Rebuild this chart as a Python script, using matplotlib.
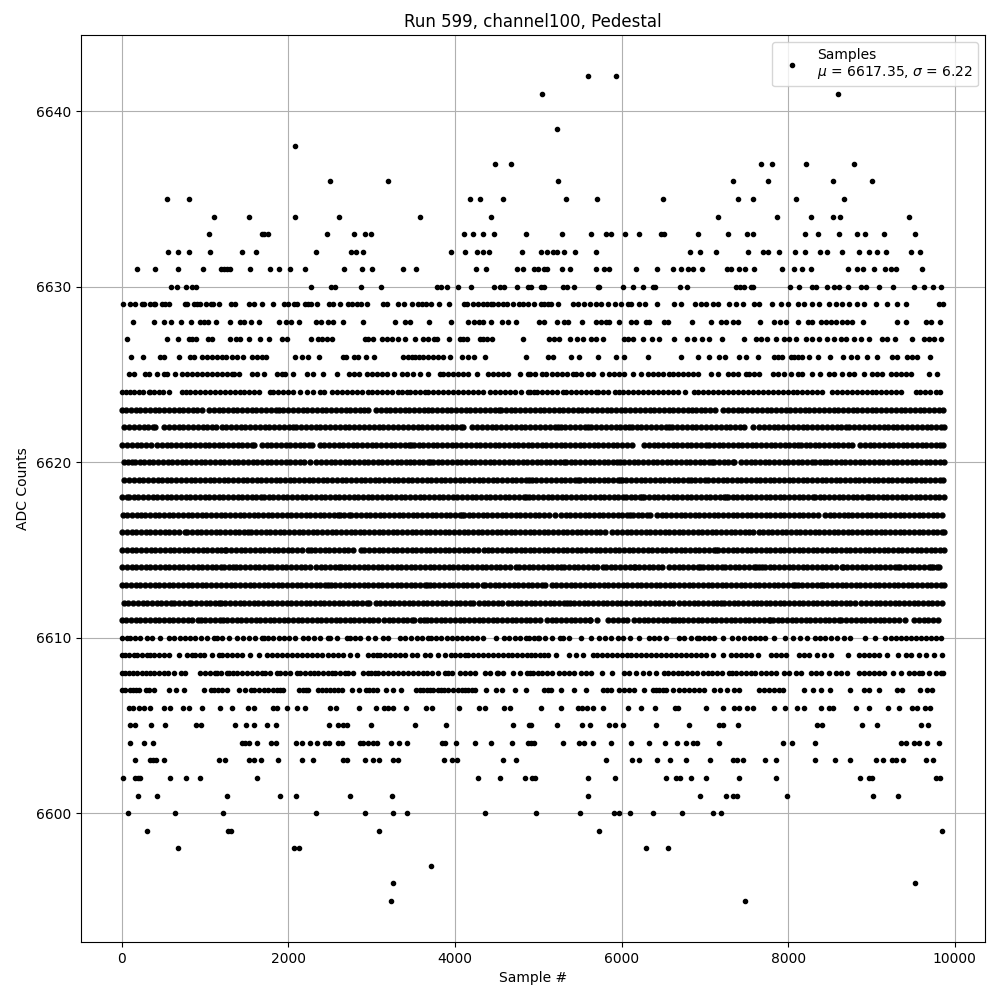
import matplotlib
matplotlib.use("Agg")
import matplotlib.pyplot as plt

lev_6642 = [5592, 5928]
lev_6641 = [5040, 8604]
lev_6639 = [5220]
lev_6638 = [2079]
lev_6637 = [4485, 4676, 7672, 7800, 8220, 8796]
lev_6636 = [2498, 3192, 5240, 7332, 7752, 8544, 9012]
lev_6635 = [547, 810, 4174, 4305, 4580, 5328, 5700, 6492, 7392, 7572, 8088, 8676]
lev_6634 = [1109, 1528, 2079, 2605, 3575, 4429, 7152, 7860, 8280, 8544, 8628, 9456]
lev_6633 = [1049, 1680, 1700, 1756, 2462, 2785, 2917, 2989, 4102, 4221, 4341, 4473, 4856, 5280, 5628, 5808, 5868, 6040, 6204, 6472, 6512, 6912, 7276, 7500, 7580, 8208, 8364, 8616, 8832, 8928, 9152, 9528]
lev_6632 = [559, 678, 810, 1061, 1444, 1612, 2330, 2749, 2809, 2893, 3946, 4118, 4269, 4341, 4405, 4808, 5032, 5100, 5172, 5220, 5304, 5436, 5688, 6816, 6936, 7128, 7512, 7692, 7752, 7884, 8076, 8208, 8388, 8472, 8652, 8856, 8976, 9072, 9180, 9472, 9580]
lev_6631 = [176, 403, 678, 978, 1193, 1225, 1257, 1301, 1540, 1780, 1887, 2019, 2198, 2665, 2881, 3000, 3372, 3527, 4257, 4377, 4748, 4820, 4944, 4992, 5072, 5100, 5280, 5376, 5688, 5792, 5852, 6168, 6420, 6612, 6708, 6792, 6860, 6960, 7260, 7308, 7404, 7484, 7584, 7920, 8072, 8172, 8272, 8724, 8832, 8904, 9036, 9168, 9232, 9300, 9612]
lev_6630 = [595, 666, 774, 838, 886, 2270, 2510, 2558, 2869, 3108, 3779, 3826, 3902, 4030, 4197, 4473, 4541, 4589, 4748, 4880, 4912, 5032, 5072, 5292, 5344, 5424, 5712, 5732, 6012, 6140, 6252, 6372, 6404, 6696, 6780, 7372, 7420, 7472, 7552, 7580, 8016, 8132, 8292, 8332, 8472, 8552, 8612, 8724, 8872, 8940, 9092, 9264, 9512, 9628, 9744, 9840]
lev_6629 = [16, 92, 152, 240, 260, 332, 380, 400, 480, 520, 560, 760, 780, 860, 900, 932, 1012, 1072, 1092, 1168, 1312, 1352, 1520, 1580, 1676, 1820, 1952, 2000, 2072, 2100, 2200, 2240, 2268, 2340, 2492, 2540, 2624, 2712, 2760, 2820, 2872, 2948, 3140, 3188, 3320, 3392, 3488, 3560, 3608, 3652, 3716, 3812, 3932, 4108, 4140, 4212, 4272, 4340, 4380, 4428, 4460, 4520, 4580, 4628, 4700, 4772, 4820, 4880, 4944, 5032, 5072, 5112, 5152, 5232, 5412, 5472, 5552, 5620, 5692, 5752, 5832, 5924, 5992, 6072, 6112, 6204, 6284, 6424, 6624, 6712, 6880, 6952, 7012, 7092, 7152, 7292, 7372, 7452, 7592, 7652, 7800, 7912, 7992, 8112, 8192, 8292, 8372, 8492, 8572, 8652, 8732, 8832, 8912, 9052, 9192, 9312, 9412, 9812, 9860]
lev_6628 = [128, 380, 500, 588, 704, 824, 940, 980, 1028, 1124, 1292, 1420, 1460, 1544, 1640, 1892, 1976, 2036, 2132, 2336, 2396, 2480, 2540, 2652, 2900, 3284, 3404, 3460, 3692, 3956, 4156, 4228, 4292, 4340, 4436, 4560, 4640, 4732, 5012, 5072, 5220, 5304, 5360, 5520, 5692, 5752, 5812, 5852, 5964, 6112, 6172, 6292, 6332, 6504, 6552, 6840, 7068, 7192, 7252, 7332, 7392, 7660, 7824, 7896, 7968, 8112, 8244, 8292, 8392, 8452, 8512, 8572, 8652, 8712, 8772, 8904, 9312, 9420, 9652, 9712, 9828]
lev_6627 = [60, 536, 668, 800, 840, 892, 1028, 1076, 1292, 1372, 1412, 1520, 1652, 1772, 1928, 1988, 2276, 2360, 2400, 2460, 2528, 2920, 2960, 3020, 3120, 3180, 3248, 3320, 3404, 3524, 3620, 3680, 3752, 3788, 3924, 4060, 4100, 4148, 4300, 4340, 4380, 4448, 4816, 5132, 5192, 5252, 5380, 5460, 5532, 5632, 5692, 5780, 6024, 6072, 6140, 6252, 6360, 6452, 6624, 6780, 6872, 6960, 7052, 7200, 7464, 7612, 7672, 7740, 7848, 7952, 8012, 8092, 8212, 8284, 8372, 8472, 8552, 8632, 8692, 8792, 8872, 8972, 9132, 9192, 9284, 9492, 9632, 9692, 9752, 9832]
lev_6626 = [104, 248, 460, 500, 680, 820, 868, 960, 1020, 1080, 1140, 1200, 1252, 1320, 1380, 1452, 1560, 1620, 1680, 1732, 2084, 2168, 2240, 2372, 2660, 2692, 2788, 2840, 2932, 3032, 3380, 3440, 3480, 3520, 3572, 3620, 3680, 3740, 3800, 3860, 3940, 4080, 4160, 4228, 4364, 4856, 5112, 5180, 5388, 5484, 5712, 5928, 6024, 6312, 6712, 6912, 7044, 7164, 7244, 7404, 7488, 7632, 7832, 7872, 7920, 8032, 8072, 8112, 8164, 8256, 8364, 8508, 8664, 8752, 8832, 8952, 9064, 9252, 9312, 9432, 9492, 9552, 9700]
lev_6625 = [80, 140, 280, 320, 420, 500, 540, 640, 720, 780, 840, 900, 960, 1020, 1080, 1140, 1200, 1260, 1320, 1340, 1400, 1560, 1620, 1700, 1860, 1920, 1960, 2052, 2220, 2300, 2420, 2588, 2732, 2790, 2850, 2940, 3000, 3060, 3120, 3180, 3268, 3360, 3420, 3500, 3580, 3680, 3820, 3860, 3920, 3980, 4040, 4100, 4160, 4260, 4400, 4460, 4520, 4580, 4640, 4780, 4880, 4900, 4960, 5050, 5092, 5160, 5220, 5280, 5340, 5412, 5452, 5512, 5592, 5652, 5764, 5852, 5912, 5972, 6032, 6132, 6232, 6312, 6372, 6432, 6492, 6572, 6612, 6672, 6732, 6792, 6852, 6912, 7072, 7152, 7272, 7332, 7392, 7492, 7532, 7592, 7652, 7812, 7872, 7952, 8032, 8112, 8172, 8292, 8384, 8492, 8552, 8652, 8732, 8792, 8912, 9012, 9072, 9132, 9232, 9292, 9352, 9412, 9472, 9692, 9792]
lev_6624 = [5, 45, 95, 140, 200, 250, 320, 340, 390, 440, 490, 570, 720, 770, 820, 880, 940, 1000, 1060, 1120, 1180, 1240, 1300, 1360, 1420, 1460, 1520, 1590, 1650, 1780, 1820, 1880, 1940, 2000, 2060, 2140, 2220, 2300, 2380, 2428, 2520, 2580, 2640, 2700, 2760, 2820, 2880, 2950, 3000, 3060, 3120, 3180, 3240, 3320, 3360, 3420, 3460, 3520, 3580, 3640, 3680, 3740, 3800, 3860, 3920, 3980, 4040, 4100, 4160, 4220, 4280, 4340, 4420, 4480, 4540, 4600, 4660, 4720, 4788, 4880, 4900, 4952, 4980, 5040, 5100, 5160, 5220, 5292, 5332, 5392, 5452, 5512, 5572, 5632, 5692, 5712, 5772, 5840, 5924, 5964, 6020, 6080, 6140, 6200, 6260, 6320, 6380, 6440, 6500, 6560, 6620, 6680, 6760, 6872, 6912, 6972, 7032, 7092, 7152, 7212, 7272, 7332, 7392, 7452, 7512, 7572, 7632, 7692, 7752, 7812, 7872, 7932, 7992, 8052, 8104, 8164, 8224, 8284, 8344, 8404, 8532, 8592, 8652, 8712, 8772, 8832, 8892, 8952, 9012, 9052, 9112, 9172, 9232, 9292, 9352, 9532, 9580, 9640, 9700, 9780, 9820]
lev_6623 = [2, 50, 105, 165, 215, 280, 340, 395, 450, 510, 565, 620, 680, 735, 790, 850, 905, 960, 1045, 1100, 1160, 1215, 1270, 1330, 1385, 1445, 1500, 1560, 1615, 1670, 1730, 1790, 1845, 1885, 1940, 2000, 2055, 2110, 2170, 2225, 2285, 2340, 2400, 2455, 2510, 2570, 2625, 2685, 2740, 2800, 2855, 2910, 2950, 3050, 3105, 3165, 3220, 3280, 3335, 3395, 3450, 3510, 3565, 3625, 3670, 3725, 3785, 3840, 3900, 3955, 4015, 4070, 4130, 4185, 4245, 4300, 4360, 4415, 4475, 4530, 4555, 4610, 4670, 4725, 4785, 4840, 4900, 4955, 5015, 5070, 5130, 5185, 5245, 5300, 5360, 5415, 5475, 5530, 5590, 5645, 5705, 5760, 5820, 5875, 5930, 5990, 6045, 6105, 6160, 6220, 6275, 6335, 6390, 6450, 6505, 6565, 6620, 6680, 6735, 6795, 6850, 6890, 6950, 7005, 7065, 7120, 7220, 7280, 7335, 7395, 7450, 7510, 7565, 7625, 7680, 7740, 7795, 7855, 7910, 7970, 8025, 8085, 8140, 8200, 8255, 8315, 8370, 8430, 8485, 8545, 8600, 8660, 8715, 8775, 8830, 8890, 8945, 9005, 9060, 9120, 9175, 9235, 9290, 9350, 9405, 9465, 9520, 9580, 9635, 9695, 9750, 9810, 9860]
lev_6622 = [30, 90, 145, 200, 262, 315, 372, 400, 505, 560, 622, 680, 735, 798, 855, 910, 972, 1018, 1080, 1135, 1196, 1250, 1312, 1365, 1425, 1480, 1542, 1595, 1655, 1712, 1770, 1830, 1888, 1945, 2005, 2050, 2090, 2150, 2208, 2265, 2325, 2382, 2440, 2500, 2558, 2615, 2675, 2732, 2790, 2850, 2908, 2965, 3025, 3082, 3140, 3200, 3258, 3315, 3375, 3432, 3490, 3550, 3608, 3665, 3725, 3782, 3840, 3900, 3958, 4015, 4075, 4100, 4205, 4262, 4320, 4380, 4438, 4495, 4555, 4612, 4670, 4730, 4788, 4845, 4905, 4962, 5020, 5080, 5138, 5195, 5240, 5268, 5325, 5385, 5442, 5500, 5560, 5595, 5635, 5695, 5752, 5810, 5870, 5928, 5985, 6045, 6085, 6120, 6180, 6238, 6295, 6355, 6412, 6470, 6530, 6575, 6605, 6665, 6722, 6780, 6840, 6898, 6955, 7015, 7072, 7130, 7190, 7248, 7305, 7365, 7422, 7475, 7575, 7650, 7708, 7765, 7825, 7882, 7940, 8000, 8058, 8115, 8175, 8232, 8290, 8350, 8408, 8465, 8525, 8582, 8640, 8700, 8735, 8795, 8852, 8910, 8970, 9028, 9085, 9145, 9202, 9260, 9310, 9370, 9430, 9488, 9545, 9605, 9662, 9720, 9780, 9838, 9870]
lev_6621 = [5, 62, 118, 176, 232, 288, 345, 425, 482, 538, 595, 652, 708, 765, 822, 878, 935, 992, 1048, 1105, 1162, 1218, 1275, 1332, 1388, 1445, 1502, 1558, 1585, 1680, 1738, 1795, 1852, 1908, 1965, 2022, 2078, 2135, 2192, 2248, 2285, 2375, 2432, 2488, 2545, 2602, 2658, 2715, 2772, 2828, 2885, 2942, 2998, 3055, 3112, 3168, 3225, 3282, 3338, 3395, 3452, 3475, 3505, 3562, 3618, 3675, 3732, 3788, 3845, 3902, 3958, 4015, 4072, 4128, 4190, 4248, 4305, 4362, 4418, 4475, 4532, 4588, 4645, 4702, 4758, 4815, 4872, 4928, 4985, 5042, 5098, 5155, 5212, 5268, 5325, 5382, 5438, 5495, 5552, 5608, 5665, 5722, 5778, 5835, 5892, 5948, 6005, 6062, 6120, 6270, 6328, 6385, 6442, 6498, 6555, 6612, 6668, 6725, 6782, 6838, 6895, 6952, 7008, 7050, 7108, 7165, 7222, 7278, 7335, 7392, 7448, 7505, 7562, 7618, 7675, 7732, 7788, 7845, 7902, 7958, 8015, 8072, 8120, 8160, 8215, 8260, 8318, 8375, 8432, 8488, 8545, 8602, 8658, 8715, 8772, 8860, 8920, 8978, 9035, 9092, 9148, 9205, 9262, 9318, 9375, 9432, 9488, 9545, 9602, 9658, 9715, 9772, 9828, 9865]
lev_6620 = [20, 75, 125, 155, 212, 265, 322, 378, 435, 492, 548, 605, 662, 718, 775, 832, 888, 945, 1002, 1058, 1115, 1172, 1228, 1285, 1342, 1398, 1455, 1512, 1568, 1625, 1682, 1738, 1795, 1852, 1908, 1965, 2022, 2078, 2135, 2192, 2255, 2335, 2392, 2448, 2505, 2562, 2618, 2675, 2732, 2788, 2845, 2902, 2958, 3015, 3072, 3128, 3185, 3242, 3298, 3355, 3412, 3455, 3505, 3562, 3618, 3675, 3705, 3735, 3792, 3848, 3905, 3962, 4018, 4075, 4132, 4188, 4245, 4302, 4358, 4415, 4472, 4528, 4585, 4642, 4698, 4755, 4812, 4868, 4925, 4990, 5030, 5088, 5145, 5202, 5258, 5305, 5330, 5388, 5445, 5502, 5558, 5615, 5672, 5728, 5785, 5842, 5898, 5945, 5975, 6032, 6088, 6145, 6202, 6258, 6315, 6372, 6428, 6485, 6542, 6598, 6655, 6712, 6768, 6825, 6882, 6938, 6995, 7052, 7080, 7110, 7168, 7225, 7282, 7338, 7350, 7435, 7492, 7548, 7605, 7662, 7718, 7775, 7832, 7888, 7945, 8002, 8058, 8115, 8172, 8228, 8285, 8320, 8378, 8435, 8462, 8518, 8575, 8632, 8688, 8745, 8802, 8858, 8915, 8972, 9028, 9085, 9142, 9198, 9255, 9312, 9368, 9425, 9482, 9538, 9595, 9652, 9708, 9765, 9822, 9870]
lev_6619 = [30, 88, 145, 202, 258, 315, 372, 428, 485, 542, 595, 655, 712, 768, 825, 882, 938, 995, 1052, 1108, 1165, 1222, 1278, 1335, 1392, 1448, 1505, 1562, 1618, 1675, 1732, 1788, 1845, 1902, 1958, 2015, 2072, 2128, 2185, 2242, 2298, 2355, 2412, 2468, 2525, 2582, 2638, 2695, 2752, 2808, 2865, 2922, 2978, 3035, 3092, 3148, 3205, 3262, 3318, 3375, 3432, 3488, 3545, 3602, 3658, 3715, 3772, 3828, 3885, 3942, 3998, 4055, 4112, 4168, 4225, 4282, 4338, 4395, 4452, 4508, 4565, 4622, 4678, 4735, 4792, 4848, 4885, 4920, 4978, 5035, 5098, 5155, 5212, 5268, 5325, 5382, 5438, 5478, 5500, 5558, 5615, 5672, 5728, 5785, 5842, 5898, 5955, 5975, 6000, 6058, 6115, 6172, 6228, 6285, 6342, 6398, 6455, 6512, 6568, 6625, 6682, 6738, 6795, 6828, 6885, 6942, 6998, 7040, 7098, 7155, 7212, 7268, 7325, 7382, 7438, 7495, 7552, 7608, 7665, 7722, 7778, 7835, 7892, 7948, 8005, 8062, 8118, 8175, 8232, 8288, 8345, 8402, 8458, 8515, 8572, 8628, 8685, 8742, 8798, 8855, 8912, 8968, 9025, 9082, 9138, 9195, 9252, 9308, 9365, 9422, 9478, 9535, 9592, 9648, 9705, 9762, 9818, 9865]
lev_6618 = [5, 55, 85, 142, 198, 255, 312, 368, 425, 482, 538, 595, 652, 708, 765, 822, 878, 935, 992, 1048, 1105, 1162, 1218, 1275, 1332, 1388, 1445, 1502, 1558, 1615, 1672, 1705, 1762, 1818, 1875, 1932, 1988, 2045, 2102, 2158, 2215, 2272, 2328, 2385, 2442, 2498, 2555, 2612, 2668, 2725, 2782, 2838, 2895, 2952, 3008, 3065, 3122, 3178, 3235, 3292, 3355, 3405, 3462, 3518, 3575, 3632, 3688, 3745, 3802, 3858, 3915, 3972, 4028, 4085, 4142, 4198, 4255, 4312, 4368, 4425, 4482, 4538, 4595, 4652, 4708, 4765, 4822, 4855, 4885, 4942, 4998, 5055, 5112, 5168, 5225, 5282, 5338, 5395, 5452, 5508, 5565, 5622, 5678, 5735, 5792, 5848, 5905, 5962, 6018, 6050, 6108, 6165, 6222, 6245, 6270, 6328, 6385, 6442, 6498, 6555, 6612, 6668, 6725, 6782, 6838, 6895, 6952, 7008, 7065, 7122, 7178, 7235, 7250, 7275, 7332, 7388, 7445, 7502, 7558, 7615, 7672, 7728, 7785, 7842, 7898, 7955, 8012, 8068, 8125, 8182, 8238, 8295, 8320, 8378, 8435, 8492, 8548, 8605, 8662, 8718, 8775, 8832, 8888, 8945, 8965, 9022, 9078, 9135, 9192, 9248, 9305, 9362, 9418, 9475, 9532, 9588, 9645, 9702, 9758, 9815, 9868]
lev_6617 = [8, 65, 122, 178, 235, 278, 335, 392, 448, 505, 562, 618, 675, 732, 788, 845, 902, 958, 1015, 1072, 1128, 1185, 1242, 1298, 1355, 1412, 1468, 1525, 1582, 1638, 1695, 1752, 1808, 1865, 1922, 1978, 2035, 2092, 2148, 2205, 2262, 2318, 2375, 2432, 2488, 2545, 2595, 2615, 2672, 2728, 2755, 2812, 2868, 2925, 2982, 3038, 3095, 3152, 3208, 3265, 3322, 3378, 3435, 3492, 3548, 3605, 3662, 3718, 3775, 3832, 3888, 3945, 4002, 4058, 4080, 4105, 4162, 4218, 4275, 4332, 4388, 4445, 4502, 4558, 4615, 4672, 4728, 4785, 4842, 4898, 4955, 5012, 5068, 5125, 5205, 5270, 5328, 5385, 5442, 5498, 5555, 5612, 5668, 5725, 5782, 5838, 5895, 5952, 6008, 6065, 6095, 6135, 6192, 6248, 6305, 6335, 6425, 6482, 6538, 6595, 6652, 6708, 6765, 6822, 6878, 6935, 6992, 7048, 7105, 7162, 7218, 7275, 7332, 7388, 7445, 7502, 7558, 7615, 7672, 7728, 7785, 7842, 7898, 7955, 8012, 8068, 8125, 8182, 8238, 8295, 8360, 8440, 8498, 8555, 8612, 8670, 8715, 8772, 8828, 8885, 8942, 8998, 9055, 9112, 9168, 9225, 9282, 9338, 9395, 9452, 9508, 9565, 9622, 9678, 9735, 9792, 9848]
lev_6616 = [2, 58, 115, 172, 228, 285, 342, 398, 455, 512, 568, 625, 682, 755, 785, 842, 898, 955, 1012, 1068, 1125, 1182, 1238, 1295, 1352, 1408, 1465, 1515, 1555, 1612, 1668, 1725, 1782, 1838, 1895, 1952, 2008, 2065, 2122, 2178, 2235, 2292, 2348, 2405, 2462, 2518, 2575, 2632, 2688, 2745, 2795, 2855, 2912, 2968, 3025, 3082, 3138, 3195, 3252, 3308, 3365, 3422, 3478, 3535, 3592, 3648, 3705, 3762, 3818, 3875, 3932, 3988, 4045, 4102, 4158, 4215, 4272, 4328, 4385, 4442, 4498, 4555, 4612, 4668, 4725, 4782, 4838, 4895, 4952, 5008, 5065, 5122, 5178, 5235, 5292, 5348, 5405, 5462, 5518, 5575, 5632, 5688, 5745, 5800, 5890, 5948, 6005, 6062, 6118, 6175, 6232, 6288, 6345, 6402, 6458, 6515, 6572, 6628, 6685, 6742, 6798, 6855, 6912, 6968, 7025, 7082, 7138, 7195, 7252, 7308, 7365, 7422, 7478, 7530, 7575, 7650, 7695, 7752, 7808, 7865, 7922, 7978, 8035, 8092, 8148, 8205, 8262, 8318, 8375, 8432, 8488, 8545, 8602, 8658, 8715, 8772, 8828, 8885, 8942, 8998, 9055, 9112, 9168, 9225, 9282, 9338, 9395, 9452, 9508, 9565, 9622, 9678, 9735, 9792, 9848, 9870]
lev_6615 = [5, 62, 118, 175, 232, 288, 345, 402, 458, 515, 572, 628, 685, 742, 798, 855, 912, 968, 1025, 1082, 1138, 1195, 1235, 1255, 1312, 1368, 1425, 1482, 1538, 1595, 1652, 1708, 1765, 1822, 1878, 1935, 1992, 2048, 2105, 2162, 2235, 2265, 2322, 2378, 2435, 2492, 2548, 2605, 2662, 2718, 2775, 2875, 2910, 2968, 3025, 3082, 3138, 3195, 3252, 3308, 3365, 3422, 3478, 3535, 3592, 3648, 3705, 3762, 3818, 3875, 3932, 3988, 4045, 4102, 4158, 4215, 4272, 4350, 4390, 4448, 4505, 4562, 4618, 4675, 4732, 4788, 4840, 4895, 4952, 5008, 5065, 5122, 5178, 5235, 5292, 5348, 5405, 5462, 5518, 5575, 5632, 5688, 5745, 5802, 5858, 5915, 5972, 6028, 6085, 6142, 6198, 6255, 6312, 6368, 6425, 6482, 6538, 6595, 6652, 6708, 6765, 6822, 6878, 6935, 6992, 7048, 7105, 7130, 7160, 7218, 7275, 7332, 7388, 7445, 7502, 7558, 7615, 7672, 7728, 7785, 7842, 7898, 7955, 8012, 8068, 8125, 8182, 8238, 8295, 8352, 8408, 8465, 8522, 8578, 8635, 8692, 8748, 8805, 8862, 8918, 8975, 9032, 9088, 9145, 9202, 9258, 9315, 9372, 9428, 9485, 9542, 9598, 9655, 9712, 9768, 9825, 9868]
lev_6614 = [2, 58, 115, 172, 228, 285, 342, 398, 455, 512, 568, 625, 682, 738, 795, 852, 908, 965, 1022, 1078, 1135, 1192, 1225, 1282, 1335, 1365, 1422, 1478, 1535, 1592, 1648, 1705, 1765, 1805, 1862, 1918, 1975, 2032, 2088, 2145, 2202, 2258, 2335, 2385, 2442, 2498, 2555, 2612, 2635, 2675, 2732, 2788, 2845, 2902, 2958, 3015, 3072, 3128, 3185, 3242, 3298, 3355, 3412, 3468, 3525, 3582, 3638, 3695, 3752, 3808, 3865, 3922, 3978, 4035, 4092, 4148, 4205, 4262, 4318, 4375, 4432, 4488, 4545, 4602, 4658, 4735, 4770, 4828, 4885, 4942, 4998, 5055, 5112, 5168, 5225, 5270, 5310, 5368, 5425, 5482, 5538, 5595, 5652, 5708, 5775, 5810, 5868, 5925, 5982, 6038, 6095, 6152, 6165, 6210, 6268, 6325, 6382, 6438, 6485, 6570, 6628, 6685, 6742, 6798, 6855, 6912, 6945, 6975, 7032, 7088, 7145, 7210, 7245, 7302, 7358, 7415, 7472, 7528, 7585, 7610, 7645, 7685, 7720, 7778, 7835, 7892, 7948, 8005, 8062, 8118, 8175, 8232, 8288, 8345, 8402, 8458, 8515, 8572, 8645, 8655, 8712, 8768, 8825, 8882, 8938, 8995, 9052, 9108, 9165, 9222, 9278, 9320, 9345, 9402, 9458, 9515, 9572, 9628, 9685, 9715, 9740, 9785, 9812]
lev_6613 = [2, 52, 108, 165, 222, 278, 335, 392, 448, 505, 562, 618, 675, 732, 788, 845, 902, 958, 1015, 1072, 1128, 1185, 1255, 1305, 1362, 1418, 1475, 1532, 1588, 1645, 1702, 1758, 1815, 1872, 1928, 1985, 2042, 2098, 2155, 2212, 2268, 2325, 2382, 2438, 2475, 2505, 2562, 2618, 2675, 2732, 2788, 2845, 2902, 2958, 3015, 3072, 3128, 3185, 3242, 3298, 3355, 3412, 3468, 3525, 3582, 3638, 3665, 3695, 3752, 3808, 3865, 3922, 3978, 4035, 4092, 4148, 4205, 4262, 4335, 4360, 4418, 4475, 4532, 4588, 4645, 4702, 4758, 4815, 4872, 4928, 4985, 5042, 5085, 5160, 5218, 5275, 5332, 5388, 5445, 5502, 5558, 5615, 5672, 5728, 5785, 5842, 5898, 5955, 6012, 6068, 6125, 6182, 6238, 6295, 6352, 6408, 6465, 6522, 6578, 6635, 6692, 6748, 6805, 6862, 6918, 6975, 7032, 7088, 7145, 7202, 7258, 7315, 7372, 7428, 7485, 7542, 7598, 7655, 7712, 7768, 7825, 7882, 7938, 7995, 8052, 8080, 8115, 8172, 8228, 8285, 8342, 8395, 8415, 8472, 8528, 8585, 8642, 8698, 8755, 8812, 8868, 8925, 8982, 9038, 9095, 9152, 9208, 9265, 9322, 9378, 9435, 9492, 9548, 9605, 9662, 9718, 9775, 9832, 9870]
lev_6612 = [20, 78, 135, 192, 248, 305, 362, 418, 475, 532, 588, 625, 685, 742, 805, 835, 892, 948, 1005, 1062, 1118, 1165, 1185, 1242, 1298, 1355, 1412, 1468, 1525, 1582, 1638, 1695, 1752, 1808, 1865, 1922, 1978, 2035, 2092, 2148, 2205, 2262, 2318, 2375, 2432, 2488, 2545, 2602, 2658, 2715, 2772, 2828, 2885, 2942, 2965, 3045, 3102, 3158, 3215, 3272, 3328, 3385, 3442, 3498, 3555, 3612, 3668, 3725, 3782, 3838, 3895, 3952, 4008, 4065, 4122, 4178, 4215, 4285, 4342, 4398, 4455, 4512, 4568, 4640, 4680, 4738, 4795, 4852, 4908, 4965, 5022, 5078, 5135, 5192, 5248, 5305, 5345, 5375, 5432, 5488, 5545, 5602, 5658, 5715, 5772, 5828, 5885, 5942, 5998, 6055, 6112, 6168, 6225, 6282, 6338, 6395, 6452, 6508, 6565, 6622, 6690, 6750, 6808, 6865, 6922, 6978, 7035, 7092, 7148, 7195, 7230, 7288, 7345, 7402, 7458, 7515, 7572, 7628, 7670, 7728, 7785, 7842, 7898, 7955, 8012, 8068, 8125, 8182, 8238, 8295, 8352, 8408, 8465, 8522, 8578, 8635, 8692, 8748, 8805, 8880, 8938, 8995, 9052, 9108, 9165, 9222, 9278, 9335, 9392, 9448, 9505, 9562, 9618, 9675, 9732, 9788, 9845]
lev_6611 = [2, 52, 108, 165, 222, 278, 335, 392, 448, 505, 562, 618, 675, 732, 788, 845, 915, 945, 1002, 1058, 1115, 1172, 1215, 1265, 1322, 1378, 1435, 1492, 1548, 1605, 1662, 1718, 1775, 1832, 1885, 1942, 1998, 2055, 2112, 2168, 2225, 2282, 2338, 2395, 2452, 2508, 2565, 2622, 2678, 2735, 2792, 2848, 2905, 2962, 3018, 3075, 3145, 3202, 3258, 3315, 3372, 3428, 3485, 3505, 3575, 3632, 3665, 3715, 3772, 3828, 3885, 3942, 3998, 4055, 4112, 4168, 4225, 4282, 4338, 4395, 4452, 4508, 4565, 4622, 4678, 4735, 4792, 4848, 4905, 4962, 5025, 5105, 5162, 5218, 5275, 5332, 5388, 5445, 5502, 5558, 5615, 5625, 5700, 5840, 5898, 5955, 6012, 6065, 6150, 6208, 6265, 6322, 6378, 6435, 6492, 6548, 6605, 6645, 6685, 6742, 6798, 6855, 6912, 6968, 7025, 7082, 7138, 7195, 7252, 7308, 7365, 7422, 7478, 7535, 7592, 7648, 7710, 7768, 7785, 7815, 7872, 7928, 7985, 8042, 8098, 8155, 8212, 8268, 8325, 8382, 8438, 8495, 8552, 8608, 8640, 8700, 8758, 8815, 8872, 8928, 8985, 9042, 9098, 9155, 9212, 9268, 9325, 9400, 9510, 9568, 9625, 9682, 9738, 9795]
lev_6610 = [5, 60, 100, 160, 220, 300, 360, 452, 560, 620, 700, 760, 820, 880, 950, 1020, 1100, 1140, 1200, 1280, 1380, 1452, 1520, 1600, 1680, 1700, 1760, 1820, 1890, 1950, 2010, 2080, 2180, 2240, 2310, 2380, 2480, 2500, 2580, 2700, 2740, 2800, 2860, 2950, 3040, 3140, 3200, 3340, 3400, 3470, 3540, 3600, 3670, 3712, 3770, 3830, 3900, 3960, 4020, 4080, 4140, 4200, 4260, 4332, 4492, 4592, 4652, 4720, 4780, 4852, 4884, 4950, 4992, 5012, 5080, 5160, 5260, 5292, 5372, 5512, 5632, 5732, 5800, 5872, 5952, 6020, 6100, 6212, 6324, 6392, 6444, 6532, 6684, 6750, 6830, 6904, 6924, 6990, 7050, 7110, 7216, 7324, 7400, 7470, 7544, 7596, 7664, 7716, 7824, 7964, 8056, 8144, 8224, 8324, 8384, 8444, 8510, 8590, 8670, 8744, 8924, 9044, 9164, 9230, 9290, 9350, 9410, 9470, 9530, 9590, 9650, 9710, 9770, 9830]
lev_6609 = [2, 40, 90, 140, 180, 240, 300, 340, 380, 440, 500, 560, 680, 780, 840, 880, 940, 980, 1080, 1160, 1200, 1260, 1320, 1380, 1440, 1532, 1648, 1740, 1800, 1860, 1920, 1980, 2040, 2100, 2160, 2220, 2280, 2340, 2400, 2470, 2540, 2600, 2660, 2740, 2820, 2960, 3020, 3060, 3100, 3160, 3220, 3280, 3340, 3400, 3480, 3540, 3640, 3700, 3800, 3880, 3950, 4000, 4060, 4120, 4160, 4220, 4280, 4340, 4400, 4460, 4520, 4580, 4640, 4680, 4740, 4800, 4860, 4912, 4960, 5020, 5070, 5112, 5212, 5364, 5452, 5532, 5652, 5710, 5770, 5830, 5890, 5950, 6000, 6060, 6110, 6172, 6230, 6290, 6350, 6410, 6470, 6530, 6590, 6650, 6710, 6770, 6830, 6890, 6950, 7012, 7092, 7220, 7312, 7372, 7432, 7492, 7552, 7640, 7792, 7852, 7912, 7972, 8132, 8192, 8252, 8352, 8432, 8520, 8724, 8852, 8912, 8972, 9032, 9092, 9184, 9324, 9412, 9472, 9572, 9652, 9752, 9852]
lev_6608 = [2, 40, 80, 130, 180, 240, 290, 340, 390, 440, 500, 550, 620, 710, 760, 940, 1000, 1060, 1120, 1140, 1190, 1260, 1280, 1332, 1380, 1440, 1500, 1560, 1620, 1680, 1720, 1780, 1860, 1900, 1960, 2020, 2100, 2140, 2200, 2260, 2310, 2360, 2420, 2480, 2520, 2560, 2620, 2680, 2720, 2780, 2900, 2960, 2990, 3040, 3080, 3140, 3200, 3260, 3320, 3380, 3440, 3500, 3560, 3620, 3660, 3720, 3800, 3880, 3920, 3960, 4060, 4120, 4180, 4240, 4360, 4420, 4500, 4520, 4580, 4700, 4780, 4860, 4900, 4940, 5000, 5050, 5110, 5170, 5252, 5310, 5370, 5430, 5510, 5570, 5630, 5760, 5880, 6032, 6090, 6172, 6252, 6324, 6412, 6512, 6560, 6612, 6672, 6730, 6790, 6850, 6910, 6972, 7032, 7090, 7150, 7200, 7290, 7330, 7372, 7430, 7490, 7552, 7596, 7672, 7732, 7792, 7852, 7952, 8012, 8092, 8152, 8272, 8332, 8392, 8492, 8572, 8632, 8712, 8852, 8912, 8972, 9032, 9092, 9152, 9260, 9352, 9452, 9512, 9572, 9612, 9692, 9772, 9832, 9860]
lev_6607 = [5, 40, 100, 130, 170, 200, 290, 330, 385, 560, 652, 740, 980, 1070, 1110, 1150, 1200, 1265, 1400, 1472, 1550, 1590, 1640, 1700, 1760, 1810, 1860, 1900, 1940, 2130, 2170, 2210, 2240, 2350, 2400, 2450, 2500, 2550, 2600, 2640, 2768, 2852, 2932, 2970, 3010, 3060, 3176, 3260, 3356, 3530, 3580, 3620, 3660, 3700, 3740, 3790, 3830, 3870, 3920, 3980, 4030, 4080, 4120, 4160, 4200, 4240, 4376, 4496, 4568, 4724, 4856, 5072, 5112, 5152, 5272, 5424, 5572, 5772, 5820, 5872, 5972, 6032, 6092, 6152, 6272, 6372, 6412, 6452, 6492, 6532, 6612, 6692, 6752, 6812, 6872, 6932, 6992, 7112, 7180, 7260, 7352, 7404, 7652, 7712, 7772, 7832, 7892, 7940, 8196, 8304, 8392, 8508, 8748, 8912, 8972, 9096, 9312, 9364, 9580, 9672, 9724]
lev_6606 = [80, 128, 200, 260, 332, 500, 580, 728, 800, 960, 1172, 1324, 1508, 1580, 1820, 1868, 1988, 2108, 2204, 2504, 2576, 2852, 3056, 3152, 3200, 3260, 3416, 3656, 3728, 4052, 4292, 4364, 4592, 4664, 5028, 5268, 5472, 5520, 5580, 5652, 5772, 6072, 6228, 6396, 6636, 6672, 7008, 7212, 7344, 7404, 7500, 7572, 7824, 7956, 8100, 8196, 8400, 8496, 8544, 8820, 8976, 9204, 9336, 9492, 9552, 9648, 9708]
lev_6605 = [92, 156, 344, 512, 892, 948, 1352, 1484, 1580, 1736, 1856, 2492, 2600, 2652, 2708, 2996, 3524, 3896, 4700, 4892, 4912, 5220, 5520, 5616, 5844, 5916, 6020, 6408, 6804, 7164, 7212, 7392, 8352, 8404, 8892, 9072, 9592, 9684]
lev_6604 = [92, 260, 368, 1440, 1472, 1520, 1616, 1792, 1852, 2096, 2168, 2264, 2348, 2444, 2492, 2600, 2648, 2860, 2900, 2960, 3020, 3068, 3236, 3332, 3428, 3840, 3884, 4016, 4244, 4436, 4688, 4880, 4912, 4952, 5292, 5492, 5552, 5652, 5868, 6108, 6324, 6516, 6660, 6768, 6852, 6900, 7164, 7932, 8040, 8328, 9352, 9412, 9512, 9572, 9672, 9816]
lev_6603 = [152, 340, 372, 404, 500, 1160, 1232, 1520, 1580, 1672, 1880, 2168, 2300, 2652, 2708, 2924, 3020, 3092, 3260, 3320, 3872, 3968, 4028, 4572, 4736, 5808, 6120, 6204, 6420, 6576, 6768, 7056, 7332, 7380, 7452, 7716, 7848, 8328, 8568, 8748, 9052, 9144, 9252, 9292, 9384, 9660, 9744]
lev_6602 = [8, 160, 188, 220, 572, 764, 932, 1616, 4280, 4544, 4844, 4924, 4964, 5592, 5916, 6528, 6652, 6700, 6828, 7008, 7404, 7848, 8868, 8972, 9012, 9780, 9820]
lev_6601 = [188, 416, 1256, 1904, 2096, 2744, 3248, 5592, 6936, 7248, 7332, 7380, 7980, 9024, 9324]
lev_6600 = [68, 632, 1208, 2336, 2924, 3260, 3428, 4364, 4968, 5496, 5904, 5964, 6096, 6372, 6720, 7092, 7188]
lev_6599 = [296, 1270, 1310, 3092, 5724, 9850]
lev_6598 = [668, 2072, 2132, 6288, 6552]
lev_6597 = [3716]
lev_6596 = [3260, 9528]
lev_6595 = [3236, 7476]

open_levels = {
    6642: lev_6642, 6641: lev_6641, 6639: lev_6639, 6638: lev_6638, 6637: lev_6637,
    6636: lev_6636, 6635: lev_6635, 6634: lev_6634, 6633: lev_6633, 6632: lev_6632,
    6631: lev_6631, 6630: lev_6630, 6629: lev_6629, 6628: lev_6628, 6627: lev_6627,
    6626: lev_6626, 6625: lev_6625, 6624: lev_6624, 6610: lev_6610, 6609: lev_6609,
    6608: lev_6608, 6607: lev_6607, 6606: lev_6606, 6605: lev_6605, 6604: lev_6604,
    6603: lev_6603, 6602: lev_6602, 6601: lev_6601, 6600: lev_6600, 6599: lev_6599,
    6598: lev_6598, 6597: lev_6597, 6596: lev_6596, 6595: lev_6595,
}
dense_levels = {
    6623: lev_6623, 6622: lev_6622, 6621: lev_6621, 6620: lev_6620, 6619: lev_6619,
    6618: lev_6618, 6617: lev_6617, 6616: lev_6616, 6615: lev_6615, 6614: lev_6614,
    6613: lev_6613, 6612: lev_6612, 6611: lev_6611,
}


def flatten(table):
    xs, ys = [], []
    for level, samples in table.items():
        xs.extend(samples)
        ys.extend([level] * len(samples))
    return xs, ys


fig, ax = plt.subplots(figsize=(10, 10), dpi=100)
open_x, open_y = flatten(open_levels)
dense_x, dense_y = flatten(dense_levels)
ax.plot(open_x, open_y, "k.", label="Samples\n$\\mu$ = 6617.35, $\\sigma$ = 6.22")
ax.plot(dense_x, dense_y, "k.", markersize=7)
ax.set_title("Run 599, channel100, Pedestal")
ax.set_xlabel("Sample #")
ax.set_ylabel("ADC Counts")
ax.grid(True)
ax.legend(loc="upper right")
fig.subplots_adjust(left=0.081, right=0.985, top=0.965, bottom=0.058)
fig.savefig("out.png", dpi=100)
